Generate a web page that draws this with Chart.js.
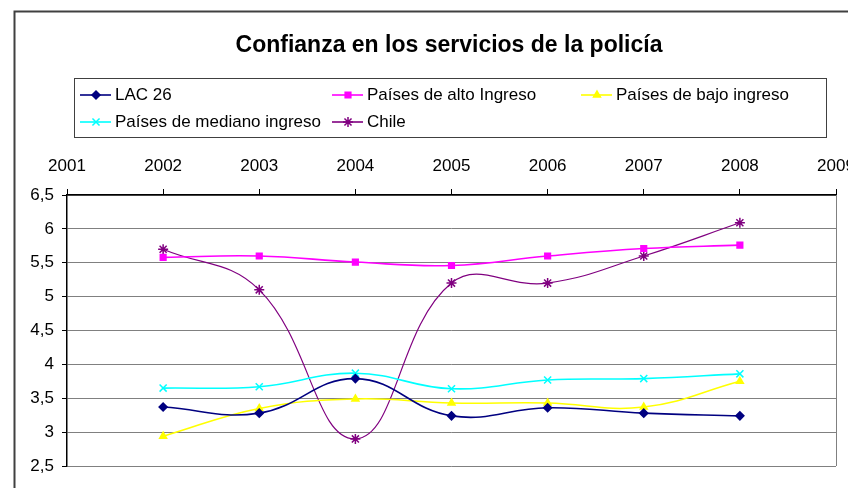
<!DOCTYPE html>
<html>
<head>
<meta charset="utf-8">
<title>Confianza en los servicios de la policía</title>
<script src="https://cdn.jsdelivr.net/npm/chart.js"></script>
<style>
  html, body { margin: 0; padding: 0; background: #fff; overflow: hidden; }
</style>
</head>
<body>
<canvas id="chart" width="848" height="488"></canvas>

<script>
  // data
  const years = [2002, 2003, 2004, 2005, 2006, 2007, 2008];
  const lac26 = [3.37, 3.28, 3.79, 3.24, 3.36, 3.28, 3.24];
  const altoIngreso = [5.58, 5.60, 5.51, 5.46, 5.60, 5.71, 5.76];
  const bajoIngreso = [2.94, 3.35, 3.49, 3.43, 3.43, 3.37, 3.75];
  const medianoIngreso = [3.65, 3.67, 3.87, 3.64, 3.77, 3.79, 3.86];
  const chile = [5.70, 5.10, 2.90, 5.20, 5.20, 5.60, 6.09];

  const seriesNames = ["LAC 26", "Países de alto Ingreso", "Países de bajo ingreso",
                       "Países de mediano ingreso", "Chile"];
  const xMin = 2001, xMax = 2009;
  const yMin = 2.5, yMax = 6.5, yStep = 0.5;

  const FONT = '"Liberation Sans", Arial, sans-serif';

  function pts(values) {
    return values.map((v, i) => ({ x: years[i], y: v }));
  }

  function series(label, values, color, style, opts) {
    return Object.assign({
      label: label,
      data: pts(values),
      borderColor: color,
      backgroundColor: color,
      borderWidth: 1.6,
      pointStyle: style,
      pointRadius: 4,
      pointBorderWidth: 1.5,
      pointHoverRadius: 4,
      tension: 0.42,
      fill: false
    }, opts || {});
  }

  function drawMarker(ctx, ds, x, y) {
    const o = { pointStyle: ds.pointStyle, radius: ds.pointRadius, rotation: 0, borderWidth: ds.pointBorderWidth };
    ctx.save();
    ctx.fillStyle = ds.backgroundColor;
    ctx.strokeStyle = ds.borderColor;
    ctx.lineWidth = ds.pointBorderWidth;
    Chart.helpers.drawPoint(ctx, o, x, y);
    ctx.restore();
  }

  // title, outer frame, plot border and the boxed legend
  const decor = {
    id: "decor",
    beforeDraw(chart) {
      const ctx = chart.ctx;
      ctx.save();
      ctx.fillStyle = "#fff";
      ctx.fillRect(0, 0, chart.width, chart.height);
      ctx.strokeStyle = "#404040";
      ctx.lineWidth = 2;
      ctx.strokeRect(14.5, 11.5, 900, 600);
      ctx.restore();
    },
    beforeDatasetsDraw(chart) {
      const ctx = chart.ctx, a = chart.chartArea;
      ctx.save();
      ctx.strokeStyle = "#808080";
      ctx.lineWidth = 1;
      ctx.beginPath();
      ctx.moveTo(a.right + 0.5, a.top);
      ctx.lineTo(a.right + 0.5, a.bottom);
      ctx.stroke();
      ctx.restore();
    },
    afterDraw(chart) {
      const ctx = chart.ctx;
      ctx.save();
      ctx.fillStyle = "#000";
      ctx.textAlign = "center";
      ctx.textBaseline = "middle";
      ctx.font = "bold 23px " + FONT;
      ctx.fillText("Confianza en los servicios de la policía", 449, 46);

      // legend box
      ctx.strokeStyle = "#404040";
      ctx.lineWidth = 1;
      ctx.strokeRect(74.5, 78.5, 752, 59);
      const cols = [80, 332, 581];
      const rows = [95, 122];
      ctx.font = "17px " + FONT;
      ctx.textAlign = "left";
      chart.data.datasets.forEach((ds, i) => {
        const x = cols[i % 3], y = rows[Math.floor(i / 3)];
        ctx.strokeStyle = ds.borderColor;
        ctx.lineWidth = 1.6;
        ctx.beginPath();
        ctx.moveTo(x, y);
        ctx.lineTo(x + 31, y);
        ctx.stroke();
        drawMarker(ctx, ds, x + 16, y);
        ctx.fillStyle = "#000";
        ctx.fillText(ds.label, x + 35, y);
      });
      ctx.restore();
    }
  };

  const ctx = document.getElementById("chart").getContext("2d");
  const chart = new Chart(ctx, {
    type: "line",
    data: {
      datasets: [
        series(seriesNames[0], lac26, "#000080", "rectRot"),
        series(seriesNames[1], altoIngreso, "#FF00FF", "rect"),
        series(seriesNames[2], bajoIngreso, "#FFFF00", "triangle"),
        series(seriesNames[3], medianoIngreso, "#00FFFF", "crossRot", { pointRadius: 5 }),
        series(seriesNames[4], chile, "#800080", "star", { borderWidth: 1.2, pointRadius: 5 })
      ]
    },
    options: {
      responsive: false,
      animation: false,
      devicePixelRatio: 1,
      layout: { padding: { left: 0, top: 0, right: 12, bottom: 22 } },
      plugins: {
        legend: { display: false },
        title: { display: false },
        tooltip: { enabled: false }
      },
      scales: {
        x: {
          type: "linear",
          position: "top",
          min: xMin,
          max: xMax,
          ticks: {
            stepSize: 1,
            color: "#000",
            padding: 12,
            font: { family: FONT, size: 17 },
            maxRotation: 0,
            callback: v => String(v)
          },
          grid: { drawOnChartArea: false, tickLength: 6, tickColor: "#000" },
          border: { color: "#000", width: 1.5 },
          afterFit(s) {
            s.height = 195;
            s.paddingLeft = 0;
            s.paddingRight = 0;
          }
        },
        y: {
          min: yMin,
          max: yMax,
          ticks: {
            stepSize: yStep,
            color: "#000",
            padding: 8,
            font: { family: FONT, size: 17 },
            callback: v => String(v).replace(".", ",")
          },
          grid: { color: "#808080", tickLength: 5, tickColor: "#000" },
          border: { color: "#000", width: 1.5 },
          afterFit(s) {
            s.width = 67;
            s.paddingTop = 0;
            s.paddingBottom = 0;
          }
        }
      }
    },
    plugins: [decor]
  });
</script>
</body>
</html>
